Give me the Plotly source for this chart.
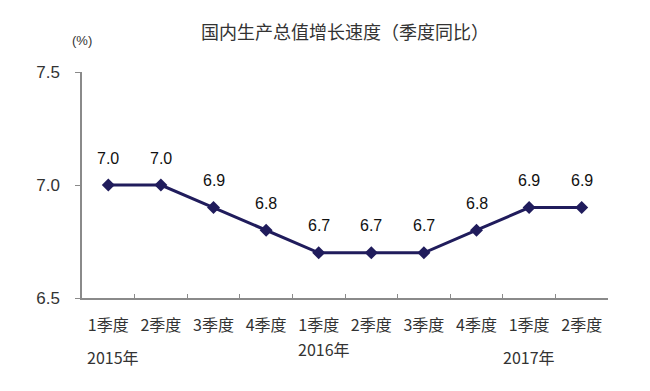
import plotly.graph_objects as go

quarters = ["1季度", "2季度", "3季度", "4季度", "1季度", "2季度", "3季度", "4季度", "1季度", "2季度"]
values = [7.0, 7.0, 6.9, 6.8, 6.7, 6.7, 6.7, 6.8, 6.9, 6.9]
years = ["2015年", "2016年", "2017年"]
year_pos = [0, 4, 8]
y_ticks = [6.5, 7.0, 7.5]

idx = list(range(len(values)))
line_color = "#201c5c"
cjk = "Noto Sans CJK SC"
latin = "Liberation Sans, Arial"

fig = go.Figure()
fig.add_trace(go.Scatter(
    x=idx, y=values, mode="lines+markers",
    line=dict(color=line_color, width=3),
    marker=dict(symbol="diamond", size=10, color=line_color),
    showlegend=False, hoverinfo="skip",
))
# invisible trace for boundary ticks axis
fig.add_trace(go.Scatter(x=[idx[0]], y=[values[0]], xaxis="x2", mode="markers",
                         marker=dict(opacity=0), showlegend=False, hoverinfo="skip"))

annotations = []
for i, v in zip(idx, values):
    annotations.append(dict(x=i, y=v, text=f"{v:.1f}", showarrow=False,
                            yshift=27, font=dict(family=latin, size=16, color="#111111")))
year_shift = [(5, -59), (5, -51), (0, -59)]
for (yp, yt, (xs, ys)) in zip(year_pos, years, year_shift):
    annotations.append(dict(x=yp, y=0, xref="x", yref="paper", text=yt, showarrow=False,
                            xshift=xs, yshift=ys, yanchor="middle",
                            font=dict(family=cjk, size=16, color="#333333")))
annotations.append(dict(x=0, y=1, xref="paper", yref="paper", text="(%)", showarrow=False,
                        yshift=32, yanchor="middle", xanchor="center",
                        font=dict(family=latin, size=13, color="#333333")))
annotations.append(dict(x=(345 - 82) / 526, y=1, xref="paper", yref="paper",
                        text="国内生产总值增长速度（季度同比）", showarrow=False,
                        xanchor="center", yanchor="middle", yshift=41,
                        font=dict(family=cjk, size=18, color="#333333")))

fig.update_layout(
    width=642, height=383,
    margin=dict(l=74, r=42, t=64, b=93),
    plot_bgcolor="white", paper_bgcolor="white",
    annotations=annotations,
    xaxis=dict(range=[-0.5, 9.5], tickmode="array", tickvals=idx, ticktext=quarters,
               showgrid=False, zeroline=False, showline=True, linecolor="#8a8a8a", linewidth=1.5,
               ticks="", ticklabelstandoff=12,
               tickfont=dict(family=cjk, size=16, color="#333333")),
    xaxis2=dict(range=[-0.5, 9.5], overlaying="x", anchor="y", side="bottom",
                tickmode="array", tickvals=[i + 0.5 for i in idx[:-1]],
                ticks="inside", ticklen=4, tickcolor="#8a8a8a", tickwidth=1,
                showticklabels=False, showgrid=False, zeroline=False, showline=False),
    yaxis=dict(range=[6.5, 7.5], tickmode="array", tickvals=y_ticks,
               ticktext=[f"{t:.1f}" for t in y_ticks],
               showgrid=False, zeroline=False, showline=True, linecolor="#8a8a8a", linewidth=1.5,
               ticks="outside", ticklen=5, tickcolor="#8a8a8a", ticklabelstandoff=12,
               tickfont=dict(family=latin, size=17, color="#333333")),
)

fig.write_html("out.html")
